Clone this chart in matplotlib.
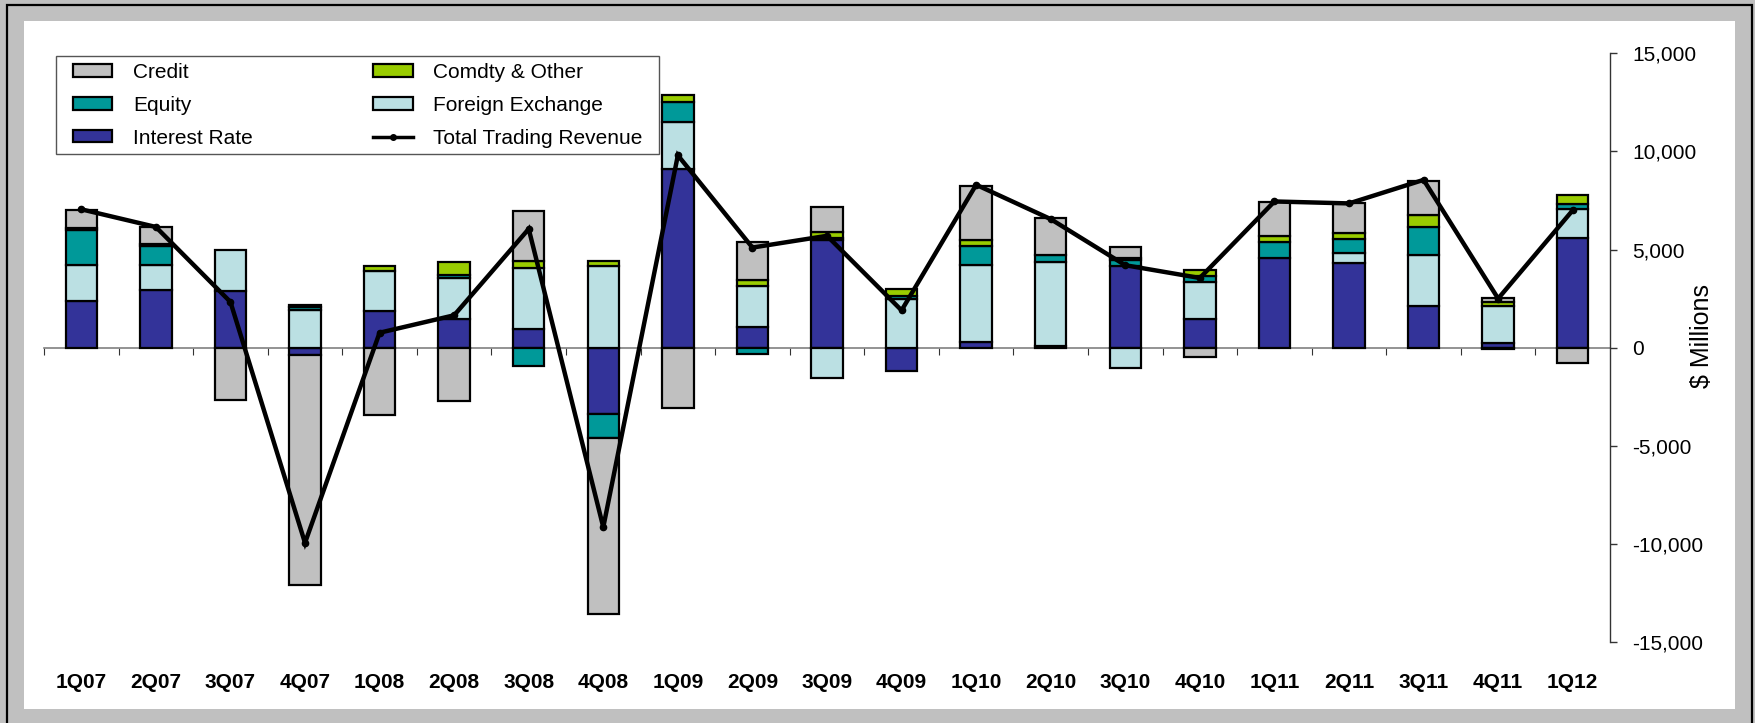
import matplotlib
matplotlib.use("Agg")
import matplotlib.pyplot as plt
import numpy as np
from matplotlib.patches import Patch, Rectangle
from matplotlib.lines import Line2D

plt.rcParams["font.family"] = ["Liberation Sans", "DejaVu Sans"]

quarters = ["1Q07", "2Q07", "3Q07", "4Q07", "1Q08", "2Q08", "3Q08", "4Q08",
            "1Q09", "2Q09", "3Q09", "4Q09", "1Q10", "2Q10", "3Q10", "4Q10",
            "1Q11", "2Q11", "3Q11", "4Q11", "1Q12"]

# $ millions
interest_rate = [2400, 2950, 2900, -350, 1850, 1450, 970, -3400, 9100, 1050, 5480,
                 -1200, 270, 100, 4150, 1480, 4590, 4330, 2120, 250, 5600]
foreign_exchange = [1800, 1250, 2080, 1900, 2050, 2120, 3100, 4150, 2400, 2080, -1550,
                    2500, 3950, 4250, -1050, 1890, 0, 510, 2580, 1880, 1480]
equity = [1800, 1000, 0, 150, 0, 120, -950, -1200, 1000, -300, 100,
          150, 960, 350, 330, 290, 770, 680, 1460, -80, 220]
comdty_other = [120, 80, 0, 120, 250, 650, 340, 280, 380, 330, 320,
                350, 300, 0, 100, 300, 340, 340, 580, 200, 500]
credit = [900, 850, -2650, -11750, -3450, -2700, 2550, -8950, -3100, 1900, 1270,
          0, 2750, 1900, 540, -460, 1730, 1530, 1750, 220, -780]
total_revenue = [7050, 6150, 2330, -9950, 760, 1650, 6050, -9150, 9800, 5100, 5700,
                 1900, 8300, 6550, 4200, 3550, 7450, 7350, 8550, 2500, 7000]

colors = {
    "Interest Rate": "#333399",
    "Foreign Exchange": "#BBE0E3",
    "Equity": "#009999",
    "Comdty & Other": "#99CC00",
    "Credit": "#C0C0C0",
}
stack_order = [("Interest Rate", interest_rate), ("Foreign Exchange", foreign_exchange),
               ("Equity", equity), ("Comdty & Other", comdty_other), ("Credit", credit)]

W, H = 1756, 723
fig = plt.figure(figsize=(W / 100, H / 100), dpi=100)
fig.patch.set_facecolor("#C0C0C0")

# white panel and outer frame, kept behind the axes
fig.patches.append(Rectangle((24 / W, (H - 709) / H), (1735 - 24) / W, (709 - 21) / H,
                             transform=fig.transFigure, facecolor="white",
                             edgecolor="none", zorder=-2))
fig.patches.append(Rectangle((7.5 / W, -0.02), (1752.5 - 7.5) / W, (H - 4.5) / H + 0.02,
                             transform=fig.transFigure, facecolor="none",
                             edgecolor="black", linewidth=1.6, zorder=-1))

ax = fig.add_axes([44 / W, (H - 642) / H, (1610 - 44) / W, (642 - 53.3) / H])
ax.patch.set_alpha(0)

x = np.arange(len(quarters))
pos_bottom = np.zeros(len(quarters))
neg_bottom = np.zeros(len(quarters))
for name, vals in stack_order:
    v = np.array(vals, dtype=float)
    bottoms = np.where(v >= 0, pos_bottom, neg_bottom)
    keep = v != 0
    ax.bar(x[keep], v[keep], bottom=bottoms[keep], width=0.42, color=colors[name],
           edgecolor="black", linewidth=1.6, zorder=3)
    pos_bottom += np.where(v > 0, v, 0)
    neg_bottom += np.where(v < 0, v, 0)

ax.plot(x, total_revenue, color="black", linewidth=3.2, marker="o", markersize=4.5,
        zorder=5, solid_joinstyle="miter")

ax.set_xlim(-0.5, len(quarters) - 0.5)
ax.set_ylim(-15000, 15000)

for side in ["top", "left", "bottom"]:
    ax.spines[side].set_visible(False)
ax.spines["right"].set_color("#333333")
ax.spines["right"].set_linewidth(1.0)

ax.yaxis.tick_right()
ax.set_yticks(np.arange(-15000, 15001, 5000))
ax.yaxis.set_major_formatter(matplotlib.ticker.FuncFormatter(lambda v, p: f"{int(v):,}"))
ax.tick_params(axis="y", direction="out", length=5, width=1.0, color="#333333",
               pad=11, labelsize=15)
ax.set_ylabel("$ Millions", fontsize=18, rotation=90)
ax.yaxis.set_label_position("right")
ax.yaxis.set_label_coords(1.051, 0.52)

ax.set_xticks(x)
ax.set_xticklabels(quarters, fontsize=15, fontweight="bold")
ax.tick_params(axis="x", length=0, pad=22)

# zero line with category tick marks
zero = ax.secondary_xaxis(0.5)
zero.spines["top"].set_color("#808080")
zero.spines["top"].set_linewidth(1.2)
zero.set_xticks(np.arange(-0.5, len(quarters) - 1, 1.0))
zero.tick_params(direction="in", length=5, color="#333333", labeltop=False,
                 labelbottom=False)

handles = [
    Patch(facecolor=colors["Credit"], edgecolor="black", linewidth=1.6),
    Patch(facecolor=colors["Equity"], edgecolor="black", linewidth=1.6),
    Patch(facecolor=colors["Interest Rate"], edgecolor="black", linewidth=1.6),
    Patch(facecolor=colors["Comdty & Other"], edgecolor="black", linewidth=1.6),
    Patch(facecolor=colors["Foreign Exchange"], edgecolor="black", linewidth=1.6),
    Line2D([], [], color="black", linewidth=2.5, marker="o", markersize=4),
]
labels = ["Credit", "Equity", "Interest Rate", "Comdty & Other", "Foreign Exchange",
          "Total Trading Revenue"]
leg = ax.legend(handles, labels, ncol=2, loc="upper left",
                bbox_to_anchor=((66 - 44) / 1566, 0.9954), borderaxespad=0, fontsize=15,
                frameon=False, handlelength=1.9, handleheight=0.55,
                handletextpad=1.0, columnspacing=5.77, labelspacing=0.67,
                borderpad=0.32)

# legend frame is wider than its vertical padding, so draw it by hand
fig.canvas.draw()
bb = leg.get_window_extent().transformed(fig.transFigure.inverted())
pad_x = 10 / W
fig.patches.append(Rectangle((bb.x0 - pad_x, bb.y0), bb.width + 2 * pad_x, bb.height,
                             transform=fig.transFigure, facecolor="none",
                             edgecolor="#555555", linewidth=1.0, zorder=5))

fig.savefig("out.png", dpi=100, facecolor=fig.get_facecolor())
